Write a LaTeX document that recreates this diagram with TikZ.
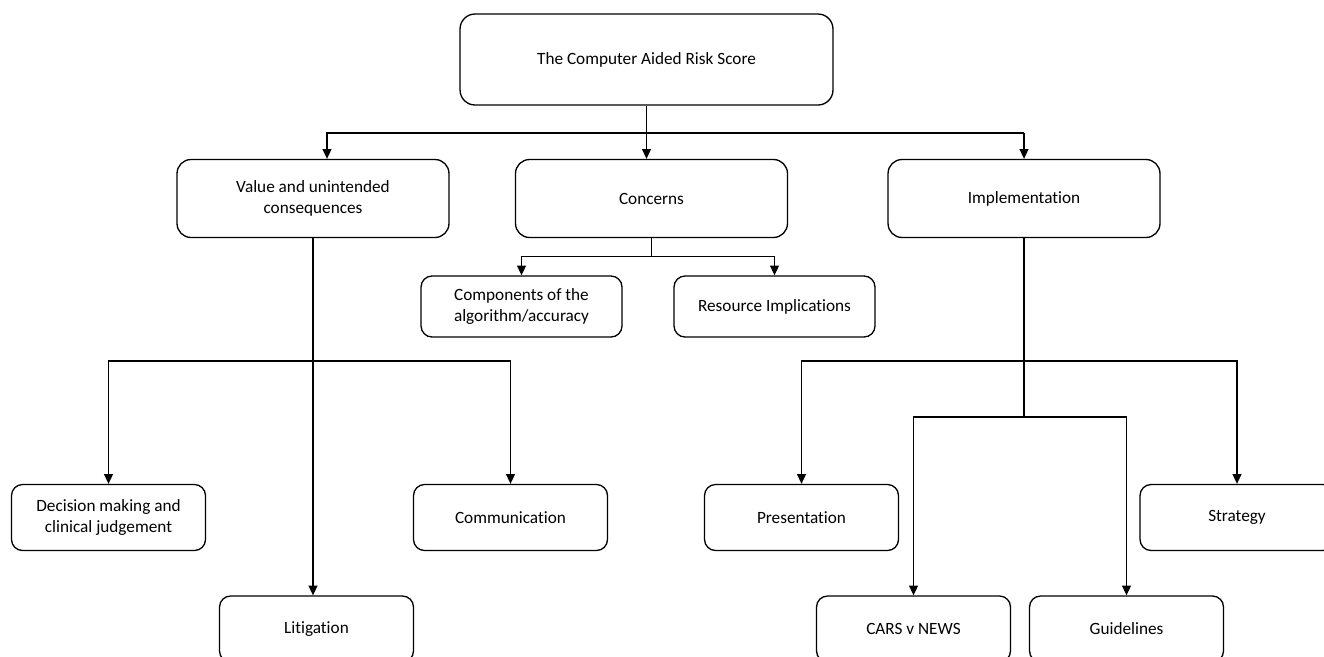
\documentclass[tikz,border=0pt]{standalone}
\usepackage{fontspec}
\setmainfont{Carlito}[Ligatures=NoCommon]
\usetikzlibrary{arrows.meta,positioning}

\tikzset{
  box/.style={draw, line width=0.75pt, align=center, inner sep=2pt,
    font=\fontsize{9.8pt}{12pt}\selectfont},
  rootbox/.style={box, rounded corners=0.3cm, minimum width=7.46cm, minimum height=1.82cm},
  midbox/.style={box, rounded corners=0.28cm, minimum width=5.44cm, minimum height=1.56cm},
  subbox/.style={box, rounded corners=0.22cm, minimum width=4.02cm, minimum height=1.22cm},
  leafbox/.style={box, rounded corners=0.22cm, minimum width=3.88cm, minimum height=1.32cm},
  link/.style={line width=0.75pt},
  arr/.style={link, -{Triangle[length=5.5pt,width=5pt]}}
}

\begin{document}
\begin{tikzpicture}[x=0.02cm, y=-0.02cm]
    \clip (0,0) rectangle (1324,656);

    % top level
    \node[rootbox] (score) at (646.5,59.5) {The Computer Aided Risk Score};

    \node[midbox] (value) at (313,198.5) {Value and unintended\\consequences};
    \node[midbox] (concerns) at (651.5,198.5) {Concerns};
    \node[midbox] (impl) at (1024,198.5) {Implementation};

    \node[subbox] (comp) at (521.5,306.5) {Components of the\\algorithm/accuracy};
    \node[subbox] (resource) at (774.5,306.5) {Resource Implications};

    \node[leafbox] (decision) at (108.5,517.5) {Decision making and\\clinical judgement};
    \node[leafbox] (comm) at (510.5,517.5) {Communication};
    \node[leafbox] (litig) at (316.5,629) {Litigation};

    \node[leafbox] (present) at (801.5,517.5) {Presentation};
    \node[leafbox] (strategy) at (1237,517.5) {Strategy};
    \node[leafbox] (carsnews) at (913.5,629) {CARS v NEWS};
    \node[leafbox] (guide) at (1126.5,629) {Guidelines};

    % bus points
    \coordinate (vin) at (327,133);
    \coordinate (iin) at (1024,133);
    \coordinate (cbus) at (651.5,256.5);
    \coordinate (vbus) at (313,361);
    \coordinate (ibus) at (1024,361);
    \coordinate (ibus2) at (1024,417);

    \draw[arr] (score.south) -- (score.south |- concerns.north);
    \draw[arr] (iin) -- (vin) -- (vin |- value.north);
    \draw[arr] (iin) -- (impl.north);

    \draw[link] (concerns.south) -- (cbus);
    \draw[arr] (cbus) -| (comp.north);
    \draw[arr] (cbus) -| (resource.north);

    \draw[arr] (value.south) -- (value.south |- litig.north);
    \draw[arr] (vbus) -| (decision.north);
    \draw[arr] (vbus) -| (comm.north);

    \draw[link] (impl.south) -- (ibus2);
    \draw[arr] (ibus) -| (present.north);
    \draw[arr] (ibus) -| (strategy.north);
    \draw[arr] (ibus2) -| (carsnews.north);
    \draw[arr] (ibus2) -| (guide.north);
\end{tikzpicture}
\end{document}
